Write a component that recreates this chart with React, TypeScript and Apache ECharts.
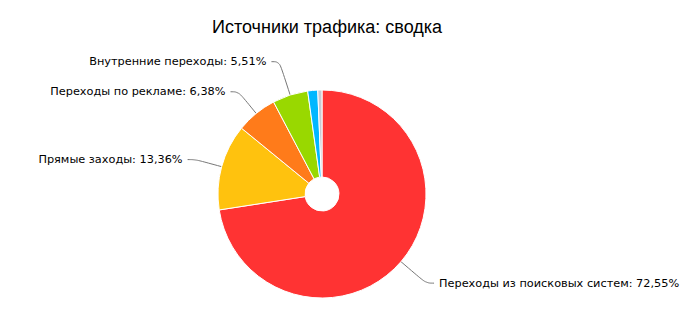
import React, { useEffect, useRef } from "react";
import * as echarts from "echarts";

const titleText = "Источники трафика: сводка";
const categories = [
  "Переходы из поисковых систем",
  "Прямые заходы",
  "Переходы по рекламе",
  "Внутренние переходы",
  "Другие",
  "Прочие",
];
const values = [72.55, 13.36, 6.38, 5.51, 1.55, 0.65];
const colors = ["#FF3333", "#FFC20E", "#FF7B1A", "#99D800", "#00B7FF", "#C8C8D2"];
const showLabel = [true, true, true, true, false, false];
const lineLen = [33, 27, 28, 35, 0, 0];

export default function App() {
  const ref = useRef<HTMLDivElement>(null);
  useEffect(() => {
    document.body.style.margin = "0";
    const chart = echarts.init(ref.current!, null, { renderer: "svg" });
    chart.setOption({
      animation: false,
      backgroundColor: "#fff",
      title: {
        text: titleText,
        left: 322,
        textAlign: "center",
        top: 13,
        textStyle: {
          fontFamily: "Liberation Sans, Arial, sans-serif",
          fontSize: 18,
          fontWeight: "normal",
          color: "#000",
        },
      },
      series: [
        {
          type: "pie",
          center: [322, 194],
          radius: [17, 104],
          startAngle: 90,
          clockwise: true,
          avoidLabelOverlap: true,
          itemStyle: { borderColor: "#fff", borderWidth: 1 },
          label: {
            fontFamily: "DejaVu Sans, Verdana, sans-serif",
            fontSize: 11.3,
            color: "#000",
            overflow: "none",
            formatter: (p: any) =>
              `${p.name}: ${Number(p.value).toFixed(2).replace(".", ",")}%`,
          },
          labelLine: {
            length: 30,
            length2: 8,
            smooth: 0.4,
            lineStyle: { color: "#777", width: 1 },
          },
          data: categories.map((c, i) => ({
            name: c,
            value: values[i],
            itemStyle: { color: colors[i] },
            label: { show: showLabel[i] },
            labelLine: { show: showLabel[i], length: lineLen[i] || 30 },
          })),
        },
      ],
    });
    return () => chart.dispose();
  }, []);
  return <div ref={ref} style={{ width: 686, height: 320, position: "absolute", left: 0, top: 0 }} />;
}
